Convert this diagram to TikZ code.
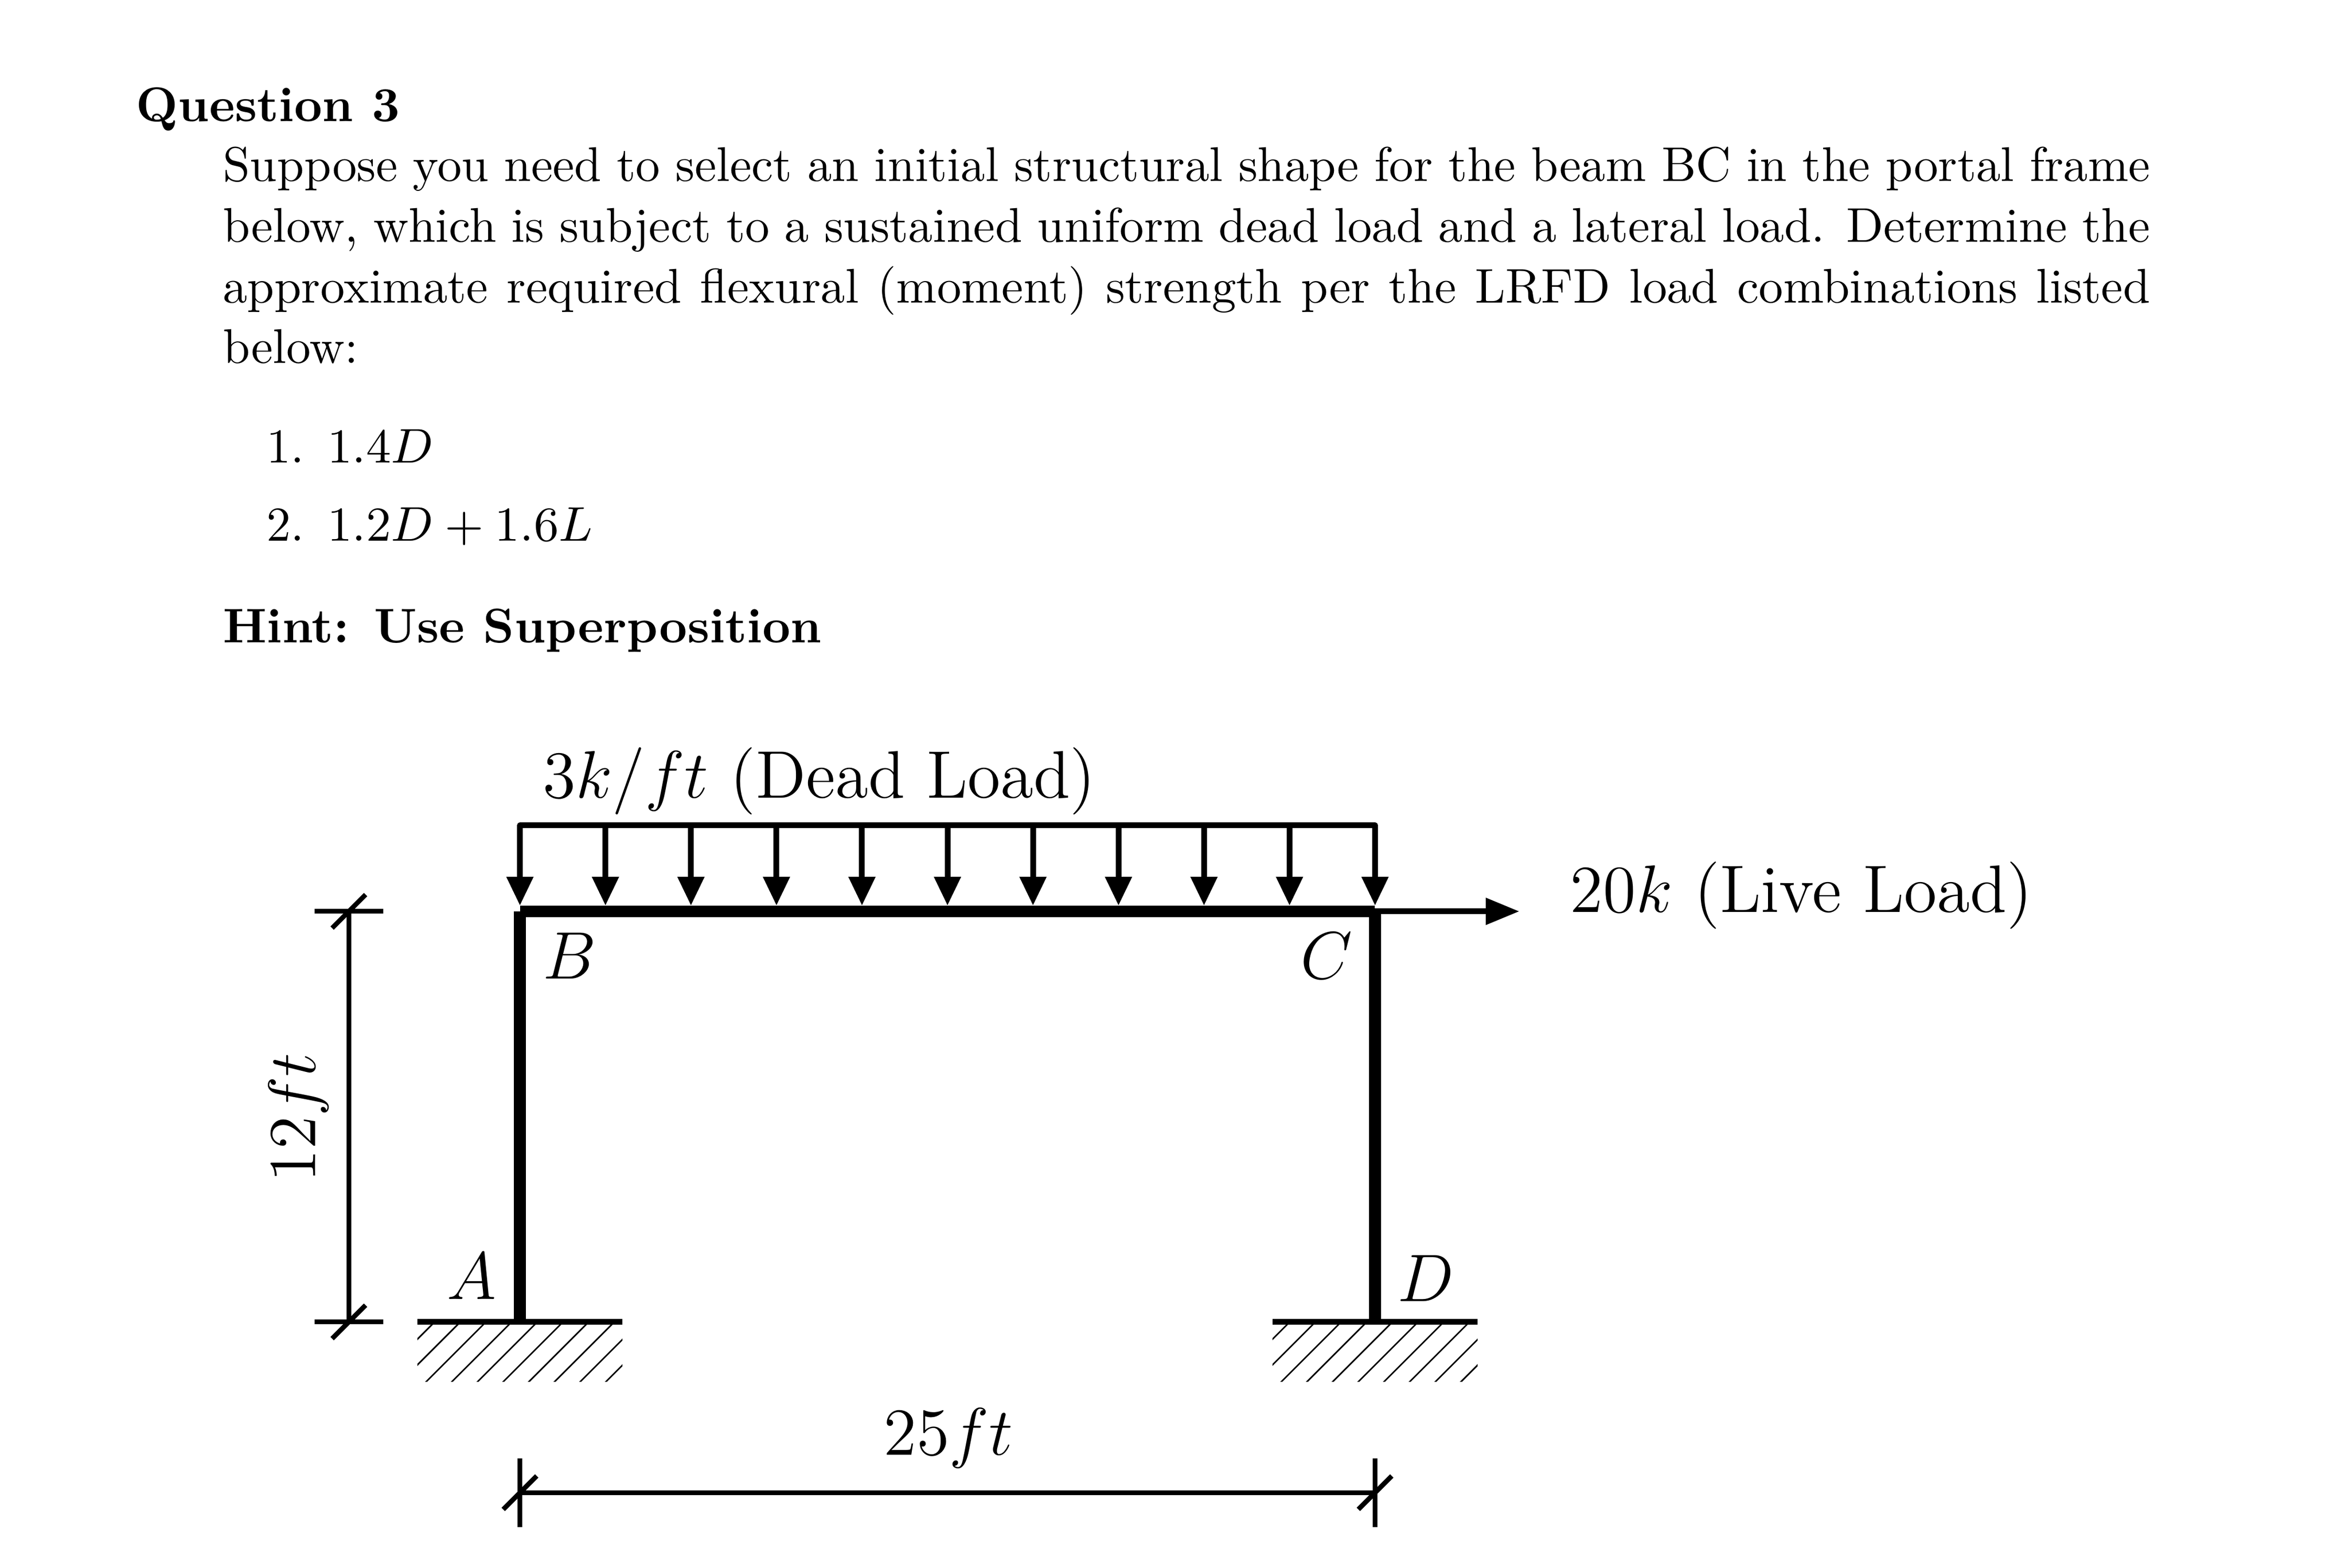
\documentclass[tikz,border=0pt]{standalone}
\usepackage{fix-cm}
\usetikzlibrary{arrows.meta}
\tikzset{
    member/.style = {line width = 2.3pt},
    loadline/.style = {line width = 1.14pt},
    loadarrow/.style = {line width = 1.14pt, -{Triangle[width = 1.78mm, length = 2mm]}},
    livearrow/.style = {line width = 1.14pt, -{Triangle[width = 1.78mm, length = 2.33mm]}},
    dimline/.style = {line width = 0.95pt},
    hatchline/.style = {line width = 0.3pt},
    labeltext/.style = {inner sep = 0pt, font = \fontsize{13.25}{16}\selectfont},
    prosetext/.style = {inner sep = 0pt, font = \fontsize{9.6}{11.95}\selectfont},
    boldtext/.style = {inner sep = 0pt, font = \fontsize{9.6}{11.95}\selectfont\bfseries}
}
\begin{document}
\begin{tikzpicture}
        \useasboundingbox (-3.605,-1.705) rectangle (12.682,9.164);

        \node [boldtext, anchor = base west] (question) at (-2.668, 8.323) {Question 3};
        \node [prosetext, anchor = north west, text width = 380.2pt, align = justify] (body) at (-2.066, 8.151)
            {Suppose you need to select an initial structural shape for the beam BC in the portal frame below, which is subject to a sustained uniform dead load and a lateral load. Determine the approximate required flexural (moment) strength per the LRFD load combinations listed below:};
        \node [prosetext, anchor = base west] (combo1) at (-1.765, 5.955) {\makebox[12pt][l]{1.}$1.4D$};
        \node [prosetext, anchor = base west] (combo2) at (-1.765, 5.415) {\makebox[12pt][l]{2.}$1.2D + 1.6L$};
        \node [boldtext, anchor = base west] (hint) at (-2.066, 4.709) {Hint: Use Superposition};

        \coordinate (A) at (0, 0);
        \coordinate (B) at (0, 2.846);
        \coordinate (C) at (5.929, 2.846);
        \coordinate (D) at (5.929, 0);
        \draw [member] (A) -- (B);
        \draw [member] (D) -- (C);
        \draw [member] (B) -- (C);

        \foreach \base in {A, D} {
            \begin{scope}[shift = {(\base)}]
                \draw [loadline] (-0.711, 0) -- (0.711, 0);
                \clip (-0.711, 0) rectangle (0.711, -0.414);
                \foreach \k in {-1, ..., 10}
                    \draw [hatchline] (-0.591 + 0.178*\k, 0) -- ++(-0.6, -0.6);
            \end{scope}
        }

        \draw [loadline, line cap = round] (0, 3.442) -- (5.929, 3.442);
        \foreach \i in {0, ..., 10}
            \draw [loadarrow] (0.5929*\i, 3.442) -- (0.5929*\i, 2.886);

        \coordinate (liveend) at (6.93, 2.846);
        \draw [livearrow] (C) -- (liveend);

        \coordinate (lefttop) at (-1.186, 2.846);
        \coordinate (leftbot) at (-1.186, 0);
        \draw [dimline] (lefttop) -- (leftbot);
        \foreach \p in {lefttop, leftbot} {
            \draw [dimline] ([xshift = -0.238cm]\p) -- ([xshift = 0.238cm]\p);
            \draw [dimline] ([shift = {(-0.116,-0.116)}]\p) -- ([shift = {(0.116,0.116)}]\p);
        }

        \coordinate (botleft) at (0, -1.184);
        \coordinate (botright) at (5.929, -1.184);
        \draw [dimline] (botleft) -- (botright);
        \foreach \p in {botleft, botright} {
            \draw [dimline] ([yshift = 0.238cm]\p) -- ([yshift = -0.238cm]\p);
            \draw [dimline] ([shift = {(-0.116,-0.116)}]\p) -- ([shift = {(0.116,0.116)}]\p);
        }

        \node [labeltext] (deadlabel) at (2.076, 3.75) {$3k/ft$ (Dead Load)};
        \node [labeltext] (livelabel) at (8.884, 2.956) {$20k$ (Live Load)};
        \node [labeltext] (labelA) at (-0.335, 0.315) {$A$};
        \node [labeltext] (labelB) at (0.345, 2.539) {$B$};
        \node [labeltext] (labelC) at (5.593, 2.539) {$C$};
        \node [labeltext] (labelD) at (6.282, 0.30) {$D$};
        \node [labeltext] (spanlabel) at (2.97, -0.808) {$25ft$};
        \node [labeltext, rotate = 90] (heightlabel) at (-1.535, 1.417) {$12ft$};
    \end{tikzpicture}
\end{document}
